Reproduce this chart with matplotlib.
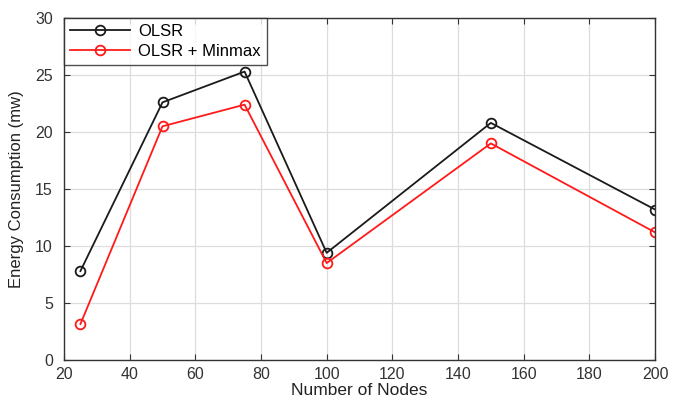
import matplotlib
matplotlib.use("Agg")
import matplotlib.pyplot as plt

# donnees
nodes = [25, 50, 75, 100, 150, 200]
olsr = [7.8, 22.6, 25.3, 9.4, 20.8, 13.2]
olsr_minmax = [3.15, 20.5, 22.4, 8.5, 19.0, 11.2]

plt.rcParams['font.family'] = ['Liberation Sans', 'DejaVu Sans']

fig = plt.figure(figsize=(6.73, 4.03), dpi=100)
ax = fig.add_axes([64/673, 1 - 360/403, (655-64)/673, (360-18)/403])

ax.plot(nodes, olsr, color='#1a1a1a', marker='o', mfc='none', mew=1.3, ms=7, lw=1.3, label='OLSR')
ax.plot(nodes, olsr_minmax, color='#ff1a1a', marker='o', mfc='none', mew=1.3, ms=7, lw=1.3, label='OLSR + Minmax')

ax.set_xlim(20, 200)
ax.set_ylim(0, 30)
ax.set_xticks(range(20, 201, 20))
ax.set_yticks(range(0, 31, 5))
ax.grid(True, color='#dddddd', lw=0.9)
ax.set_axisbelow(True)
for s in ax.spines.values():
    s.set_color('#333333')
    s.set_linewidth(1.0)
ax.tick_params(direction='in', top=True, right=True, labelsize=11.5, colors='#333333', length=4)
ax.tick_params(axis='x', pad=5)
ax.tick_params(axis='y', pad=8)
ax.set_xlabel('Number of Nodes', fontsize=12.5, color='#222222', labelpad=1)
ax.set_ylabel('Energy Consumption (mw)', fontsize=12, color='#222222', labelpad=8)

leg = ax.legend(loc='upper left', bbox_to_anchor=(0.0, 1.0), fontsize=12, frameon=True,
                fancybox=False, edgecolor='#222222', handlelength=3.6, borderaxespad=0,
                borderpad=0.35, labelspacing=0.3, handletextpad=0.5)
leg.get_frame().set_linewidth(1.0)

fig.savefig('out.png', dpi=100)
